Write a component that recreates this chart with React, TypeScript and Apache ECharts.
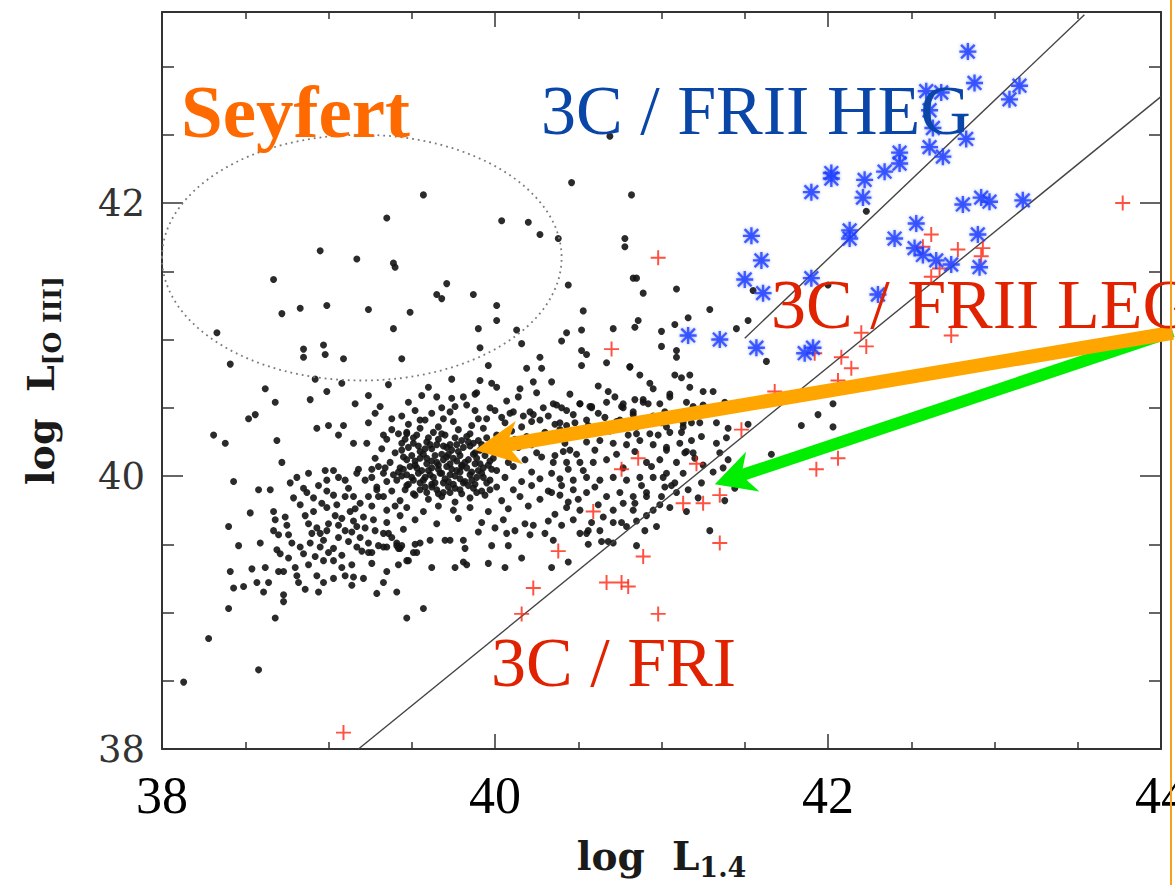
import React, { useEffect, useRef } from "react";
import * as echarts from "echarts";

// ---------- axis ranges ----------
const xRange = [38, 44];
const yRange = [38, 43.4];

// ---------- black points (log L1.4, log L[O III]) ----------
const blackUpper: number[][] = [
  [40.46,42.15],[39.57,42.06],[39.35,41.89],[40.04,41.87],[40.20,41.86],[40.27,41.77],[40.38,41.74],[38.95,41.65],
  [39.17,41.59],[39.39,41.56],[39.40,41.53],[38.67,41.44],[40.44,41.40],[39.71,41.41],[39.65,41.33],[39.68,41.30],
  [39.87,41.33],[38.99,41.25],[38.83,41.23],[39.24,41.22],[38.72,41.19],[39.49,41.20],[40.01,41.25],[40.01,41.14],
  [40.53,41.21],[39.39,41.08],[39.90,41.08],[40.13,41.07],[38.33,41.05],[40.43,41.05],[40.52,41.07],[40.69,42.49],
  [40.82,42.06],[40.71,41.08],[42.23,41.94],[40.78,41.74],[40.78,41.68],[40.83,41.45],[40.85,41.45],[40.89,41.34],
  [41.09,41.37],[41.29,41.22],[41.16,41.16],[40.86,41.14],[40.84,41.09],[41.00,41.06],[41.08,41.11],[41.00,40.95],
  [41.09,40.92],[41.09,40.87],[41.45,41.08],[41.52,41.14],[41.55,41.36],[42.00,41.40],[41.63,40.84]
];

const blackMid: number[][] = [
  [38.85,40.93],[38.85,40.87],[38.97,40.96],[38.98,40.89],[39.09,40.86],[39.44,40.86],[40.16,40.97],[39.91,40.94],
  [40.40,40.99],[40.27,40.87],[40.52,40.92],[40.55,40.89],[38.41,40.82],[39.96,40.81],[40.19,40.79],[40.28,40.79],
  [40.52,40.81],[38.92,40.71],[39.08,40.68],[39.36,40.67],[39.74,40.71],[39.91,40.70],[40.01,40.65],[40.15,40.64],
  [40.23,40.69],[40.34,40.69],[38.62,40.64],[38.99,40.62],[39.24,40.59],[39.60,40.65],[39.65,40.58],[39.74,40.57],
  [39.81,40.58],[39.88,40.60],[39.56,40.59],[40.14,40.58],[38.68,40.54],[38.89,40.56],[39.16,40.53],[39.31,40.51],
  [39.48,40.54],[39.68,40.50],[39.88,40.48],[39.97,40.50],[40.11,40.47],[40.29,40.50],[40.37,40.52],[40.57,40.51],
  [38.52,40.42],[38.56,40.45],[39.44,40.44],[39.69,40.42],[39.90,40.42],[40.04,40.43],[40.17,40.44],[40.22,40.40],
  [40.47,40.45],[40.55,40.41],[38.31,40.30],[38.38,40.24],[38.69,40.26],[38.93,40.35],[39.00,40.37],[39.09,40.37],
  [39.24,40.39],[39.06,40.30],[39.15,40.24],[39.23,40.24],[39.33,40.30],[39.42,40.31],[40.67,40.83],[40.81,40.80],
  [39.98,40.68],[40.25,40.61],[40.68,40.62],[40.77,40.50],[40.89,40.56],[39.89,40.61],[39.73,40.47],[39.76,40.51],
  [40.00,40.48],[40.09,40.46],[40.21,40.47],[40.23,40.45],[40.35,40.53],[40.40,40.50],[40.51,40.53],[40.58,40.51],
  [40.75,40.41],[40.83,40.47],[39.55,40.41],[39.47,40.32],[39.52,40.48],[39.62,40.46],[39.83,40.52],[40.07,40.55],
  [40.32,40.44],[39.38,40.42],[39.28,40.46],[40.43,40.37]
];

const blackLeft: number[][] = [
  [38.72,40.10],[38.43,39.96],[38.58,39.90],[38.65,39.90],[38.40,39.63],[38.53,39.73],[38.46,39.49],[38.59,39.51],
  [38.41,39.30],[38.43,39.18],[38.49,39.19],[38.54,39.32],[38.62,39.33],[38.57,39.22],[38.64,39.22],[38.61,39.15],
  [38.70,39.30],[38.73,39.30],[38.73,39.13],[38.73,39.08],[38.40,39.03],[38.68,38.96],[38.80,39.33],[38.81,39.27],
  [38.82,39.22],[38.86,39.17],[38.94,39.15],[38.93,39.27],[38.81,39.99],[38.88,40.02],[38.85,39.91],[38.87,39.88],
  [38.91,39.84],[38.98,40.04],[38.99,39.97],[39.03,40.04],[39.06,39.99],[38.99,39.89],[39.03,39.86],[39.10,39.97],
  [39.18,40.05],[39.22,39.97],[39.30,40.07],[39.33,40.02],[39.39,40.01],[39.43,40.06],[39.41,39.97],[39.29,39.90],
  [39.30,39.85],[39.24,39.85],[39.15,39.85],[39.10,39.85],[39.19,39.80],[38.67,39.74],[38.68,39.68],[38.74,39.70],
  [38.67,39.60],[38.70,39.57],[38.76,39.57],[38.78,39.51],[38.83,39.48],[38.69,39.46],[38.71,39.43],[38.83,39.79],
  [38.86,39.71],[38.91,39.74],[38.90,39.58],[38.95,39.58],[38.99,39.60],[38.89,39.51],[38.95,39.48],[38.92,39.41],
  [38.97,39.38],[39.03,39.38],[39.08,39.42],[39.03,39.47],[39.06,39.55],[39.10,39.60],[39.14,39.59],[39.17,39.63],
  [39.08,39.69],[39.04,39.71],[38.99,39.77],[39.14,39.35],[39.03,39.25],[39.10,39.27],[39.15,39.26],[39.21,39.25],
  [39.14,39.20],[39.24,39.51],[39.24,39.44],[39.30,39.49],[39.29,39.14],[39.41,39.15],[39.42,39.35],[39.41,39.49],
  [39.36,39.58],[39.27,39.68],[39.35,39.75],[39.40,39.78],[39.43,39.71],[39.47,39.38],[39.47,38.96],[38.13,38.49],
  [38.28,38.81],[38.58,38.58],[39.57,39.03],[39.62,39.33],[39.76,39.33],[39.83,39.35],[39.96,39.36],[40.06,39.33],
  [40.34,39.33],[39.82,39.47],[39.98,39.49],[40.08,39.49],[40.56,39.50],[39.42,39.47],[39.70,39.53],[39.33,39.48],
  [39.26,39.44],[39.52,39.50],[39.44,39.49],[39.81,39.37],[40.64,39.52],[40.68,39.52],[40.85,39.49],[40.51,39.58],
  [40.56,39.60],[40.23,39.64],[40.21,39.57],[40.07,39.58],[39.81,39.53],[39.73,39.53],[39.61,39.53],[39.55,39.51],
  [39.48,39.38],[39.51,39.44],[39.53,39.44],[39.41,39.51],[39.43,39.47],[39.33,39.58],[39.35,39.48],
  [38.77,39.95],[38.94,39.93],[39.12,39.91],[39.17,40.02],[39.26,40.05],[38.79,39.84],[38.96,39.80],[39.13,39.74],
  [39.21,39.70],[38.75,39.64],[38.88,39.65],[39.00,39.65],[39.19,39.55],[39.28,39.60],[38.85,39.43],[39.00,39.44],
  [39.17,39.48],[38.88,39.35],[39.08,39.33],[39.26,39.36],[39.35,39.30],[38.97,39.22],[39.33,39.22],[38.76,39.40],
  [38.93,39.62],[39.06,39.64],[39.15,39.67],[39.22,39.62],[38.97,39.53],[39.12,39.52],[39.20,39.45],[39.05,39.79],
  [39.16,39.76],[39.26,39.78],[39.35,39.66],[39.38,39.55]
];

const blackCore: number[][] = [
  [39.48,40.38],[39.58,40.41],[39.66,40.36],[39.75,40.40],[39.86,40.37],[39.95,40.42],[40.06,40.39],[40.16,40.36],[40.27,40.41],[40.36,40.38],
  [39.38,40.34],[39.47,40.31],[39.55,40.35],[39.63,40.32],[39.70,40.30],[39.78,40.34],[39.85,40.31],[39.93,40.35],[40.01,40.30],[40.10,40.33],[40.19,40.29],[40.30,40.32],
  [39.35,40.27],[39.44,40.24],[39.51,40.28],[39.59,40.25],[39.66,40.27],[39.73,40.23],[39.80,40.26],[39.87,40.24],[39.95,40.28],[40.03,40.25],[40.12,40.27],[40.22,40.23],[40.33,40.26],
  [39.32,40.20],[39.40,40.17],[39.48,40.21],[39.55,40.18],[39.62,40.20],[39.68,40.16],[39.74,40.19],[39.81,40.21],[39.88,40.17],[39.96,40.20],[40.05,40.18],[40.14,40.21],[40.25,40.17],
  [39.28,40.13],[39.37,40.10],[39.45,40.14],[39.52,40.11],[39.59,40.13],[39.65,40.10],[39.71,40.14],[39.77,40.11],[39.84,40.12],[39.91,40.09],[39.99,40.13],[40.08,40.10],[40.18,40.12],[40.28,40.14],
  [39.34,40.06],[39.42,40.03],[39.49,40.07],[39.56,40.04],[39.62,40.06],[39.68,40.02],[39.74,40.05],[39.80,40.07],[39.86,40.03],[39.93,40.06],[40.01,40.04],[40.11,40.07],[40.22,40.03],
  [39.26,39.99],[39.35,39.96],[39.44,40.00],[39.51,39.97],[39.58,39.99],[39.64,39.95],[39.70,39.98],[39.76,40.00],[39.82,39.96],[39.89,39.99],[39.97,39.97],[40.06,39.99],[40.16,39.96],[40.27,39.98],
  [39.29,39.92],[39.38,39.89],[39.47,39.93],[39.55,39.90],[39.62,39.92],[39.69,39.88],[39.76,39.91],[39.84,39.93],[39.92,39.89],[40.01,39.92],[40.11,39.90],[40.22,39.93],[40.32,39.89],
  [39.33,39.85],[39.43,39.82],[39.52,39.86],[39.60,39.83],[39.68,39.85],[39.76,39.81],[39.85,39.84],[39.94,39.86],[40.04,39.82],[40.15,39.85],[40.27,39.83],
  [39.47,39.77],[39.57,39.74],[39.66,39.78],[39.75,39.75],[39.85,39.77],[39.96,39.74],[40.08,39.76],[40.20,39.78],
  [39.52,39.68],[39.65,39.65],[39.78,39.69],[39.92,39.66],[40.05,39.68],[40.18,39.65],[40.32,39.67],
  [39.45,39.61],[39.90,39.59],[40.00,39.62],[40.12,39.60],[40.30,39.58],
  [39.54,40.22],[39.61,40.23],[39.69,40.22],[39.77,40.23],[39.85,40.22],[39.92,40.23],
  [39.50,40.15],[39.57,40.16],[39.64,40.15],[39.72,40.16],[39.79,40.15],[39.87,40.16],[39.94,40.15],
  [39.52,40.08],[39.59,40.09],[39.66,40.08],[39.73,40.09],[39.80,40.08],[39.88,40.09],[39.96,40.08],
  [39.47,40.01],[39.54,40.02],[39.61,40.01],[39.67,40.02],[39.73,40.01],[39.79,40.03],[39.85,40.01],[39.92,40.02],
  [39.48,39.94],[39.55,39.95],[39.62,39.94],[39.69,39.95],[39.75,39.94],[39.81,39.95],[39.88,39.94],[39.95,39.95],
  [39.51,39.87],[39.59,39.88],[39.66,39.87],[39.73,39.88],[39.80,39.87],[39.89,39.88],
  [40.38,40.28],[40.42,40.24],[40.36,40.15],[40.44,40.05],[40.34,40.02],[40.40,39.93],[40.34,39.88],[40.44,39.81],[40.36,39.72],[40.40,39.64],
  [39.46,40.27],[39.53,40.30],[39.60,40.28],[39.68,40.31],[39.76,40.28],[39.83,40.29],[39.90,40.26],
  [39.44,40.19],[39.51,40.24],[39.58,40.20],[39.65,40.23],[39.71,40.21],[39.78,40.18],[39.84,40.25],[39.91,40.19],[39.99,40.23],
  [39.47,40.12],[39.55,40.13],[39.62,40.11],[39.69,40.12],[39.75,40.13],[39.82,40.10],[39.89,40.13],[39.97,40.11],
  [39.45,40.05],[39.53,40.06],[39.60,40.04],[39.66,40.05],[39.71,40.07],[39.77,40.04],[39.83,40.06],[39.90,40.04],[39.98,40.05],
  [39.50,39.99],[39.57,39.97],[39.63,39.99],[39.72,39.96],[39.79,39.98],[39.86,39.97],[39.93,39.99],
  [39.46,39.90],[39.58,39.92],[39.65,39.90],[39.72,39.92],[39.79,39.90],[39.87,39.91],[39.97,39.90]
];

const blackRight: number[][] = [
  [40.87,40.74],[41.08,40.74],[41.17,40.74],[40.95,40.64],[41.05,40.60],[41.25,40.62],[41.31,40.62],[41.15,40.54],
  [41.19,40.51],[41.38,40.54],[41.46,40.52],[40.92,40.53],[40.84,40.56],[40.76,40.51],[40.67,40.54],[40.58,40.50],
  [40.51,40.53],[40.43,40.48],[41.33,40.39],[41.40,40.35],[41.24,40.29],[41.13,40.36],[41.03,40.36],[40.95,40.41],
  [40.85,40.36],[40.73,40.40],[40.66,40.43],[40.56,40.37],[40.48,40.39],[40.39,40.34],[40.39,40.39],[41.11,40.24],
  [41.03,40.21],[40.95,40.23],[40.87,40.26],[40.79,40.23],[40.71,40.24],[40.63,40.26],[40.55,40.25],[40.45,40.19],
  [40.49,40.16],[40.41,40.18],[41.19,40.17],[41.09,40.10],[40.99,40.12],[40.91,40.10],[40.67,40.12],[40.59,40.10],
  [40.51,40.10],[40.43,40.10],[40.35,40.10],[40.87,39.99],[40.79,39.97],[40.71,39.99],[40.63,39.97],[40.55,39.99],
  [40.47,39.97],[40.39,39.98],[40.95,39.99],[41.03,40.02],[41.02,39.92],[40.91,39.88],[40.83,39.85],[40.75,39.88],
  [40.67,39.85],[40.55,39.88],[40.47,39.90],[40.39,39.86],[40.83,39.75],[40.71,39.75],[40.65,39.70],[40.51,39.75],
  [40.43,39.77],[40.47,39.68],[40.71,39.66],[40.79,39.63],[40.85,39.67],[40.91,39.71],[40.99,39.79],[41.09,39.88],
  [41.29,39.60],[41.15,39.74],[40.63,39.60],[40.55,39.58],[40.35,39.53],[40.44,39.37],[40.16,39.40],[40.71,39.51],
  [40.81,40.80],[41.12,40.72],[41.17,40.65],[41.25,40.52],[42.03,40.53],[41.94,40.45],[41.84,40.37],[42.03,40.36],
  [41.66,40.16],[41.52,40.38],[41.33,40.24],[41.39,40.28],[41.14,40.17],[41.20,40.13],[41.35,40.17],[41.40,40.12],
  [41.31,40.03],[41.37,40.06],[41.24,39.95],[41.44,39.91],[41.38,39.82],[41.05,39.77],[40.97,39.63],[40.76,39.66],
  [41.06,39.93],[41.08,39.95],[41.00,39.85],[40.91,39.85],[40.84,39.80],[41.01,39.99],[40.94,40.07],[41.15,40.18],
  [41.03,40.19],[41.05,40.32],[41.12,40.32],[41.13,40.39],[41.18,40.39],[41.23,40.39],[40.95,40.44],[41.00,40.39],
  [40.83,40.45],[40.77,40.53],[40.89,40.54],[40.99,40.53],[41.05,40.58],[40.93,40.31],[40.85,40.31],[40.77,40.39],
  [40.45,40.60],[40.62,40.66],[40.72,40.58],[40.93,40.68],[41.02,40.47],[41.22,40.46],[40.62,40.46],[40.69,40.33],
  [40.80,40.30],[40.98,40.30],[41.18,40.26],[40.60,40.19],[40.73,40.16],[40.84,40.18],[41.25,40.08],[40.53,40.04],
  [40.77,40.06],[41.13,40.02],[40.60,39.92],[40.88,39.93],[41.16,39.90],[40.50,39.83],[40.62,39.79],[40.77,39.80],
  [40.95,39.75],[41.22,39.84],[40.58,39.66],[40.90,39.60]
];

// ---------- 3C / FRI and 3C / FRII LEG (red crosses) ----------
const redCross: number[][] = [
  [43.77,42.00],[42.62,41.77],[42.57,41.68],[42.78,41.66],[42.93,41.67],[42.92,41.61],[42.67,41.52],[42.62,41.46],
  [40.98,41.60],[40.70,40.93],[42.20,41.05],[42.23,40.95],[42.74,41.03],[41.92,40.90],[42.08,40.87],[42.14,40.79],
  [42.06,40.70],[41.68,40.62],[41.48,40.34],[40.86,40.13],[40.76,40.05],[41.21,40.09],[40.59,39.74],[41.13,39.80],
  [41.25,39.80],[41.35,39.86],[41.35,39.51],[40.89,39.41],[40.67,39.22],[40.76,39.22],[40.80,39.19],[40.98,38.99],
  [41.93,40.05],[42.06,40.13],[40.38,39.45],[40.23,39.18],[40.16,38.99],[39.09,38.12]
];

// ---------- 3C / FRII HEG (blue asterisks) ----------
const blueHeg: number[][] = [
  [42.84,43.11],[42.88,42.88],[43.15,42.86],[43.09,42.76],[42.59,42.82],[42.68,42.81],[42.61,42.68],[42.63,42.55],
  [42.83,42.47],[42.61,42.41],[42.69,42.34],[42.43,42.37],[42.43,42.29],[42.34,42.23],[42.02,42.22],[42.02,42.18],
  [42.22,42.17],[42.21,42.04],[41.90,42.08],[42.81,41.99],[42.92,42.04],[42.97,42.01],[43.17,42.02],[42.53,41.85],
  [42.13,41.80],[42.13,41.74],[42.40,41.74],[42.90,41.77],[42.52,41.67],[42.57,41.62],[42.65,41.58],[42.74,41.55],
  [42.91,41.53],[41.54,41.76],[41.60,41.58],[41.50,41.44],[41.61,41.34],[41.90,41.45],[42.30,41.33],[41.16,41.03],
  [41.35,41.00],[41.57,40.94],[41.86,40.90],[41.91,40.94]
];

// ---------- reference lines ----------
const lineUpper: number[][] = [[41.50, 41.01], [43.54, 43.38]];
const lineLower: number[][] = [[39.18, 38.0], [44.0, 42.78]];

// ---------- annotations (data coordinates) ----------
const seyfertEllipse = { cx: 39.2, cy: 41.6, rx: 1.2, ry: 0.9 };
const orangeArrow = { tail: [44.07, 41.05], tip: [39.88, 40.19] };
const greenArrow = { tail: [44.07, 41.06], tip: [41.32, 39.94] };

const PLUS = "path://M4.35,0H5.65V4.35H10V5.65H5.65V10H4.35V5.65H0V4.35H4.35Z";
const STAR =
  "path://M4.3,0H5.7V10H4.3Z M0,4.3H10V5.7H0Z M0.5,1.5L1.5,0.5L9.5,8.5L8.5,9.5Z M8.5,0.5L9.5,1.5L1.5,9.5L0.5,8.5Z";

const W = 1175;
const H = 885;

function arrowGraphics(tail: number[], tip: number[], width: number, headLen: number, headHalf: number, notch: number, color: string) {
  const dx = tip[0] - tail[0];
  const dy = tip[1] - tail[1];
  const L = Math.hypot(dx, dy);
  const ux = dx / L, uy = dy / L;
  const nx = -uy, ny = ux;
  const bx = tip[0] - ux * headLen, by = tip[1] - uy * headLen;
  const mx = tip[0] - ux * (notch - 3), my = tip[1] - uy * (notch - 3);
  const kx = tip[0] - ux * notch, ky = tip[1] - uy * notch;
  return [
    {
      type: "line",
      z: 100,
      silent: true,
      shape: { x1: tail[0], y1: tail[1], x2: mx, y2: my },
      style: { stroke: color, lineWidth: width, lineCap: "butt" },
    },
    {
      type: "polygon",
      z: 100,
      silent: true,
      shape: {
        points: [
          [tip[0], tip[1]],
          [bx + nx * headHalf, by + ny * headHalf],
          [kx, ky],
          [bx - nx * headHalf, by - ny * headHalf],
        ],
      },
      style: { fill: color },
    },
  ];
}

export default function App() {
  const ref = useRef<HTMLDivElement>(null);

  useEffect(() => {
    if (!ref.current) return;
    document.body.style.margin = "0";
    document.body.style.overflow = "hidden";
    const chart = echarts.init(ref.current, null, { renderer: "svg", width: W, height: H });

    const frame = { show: true, onZero: false, lineStyle: { color: "#333", width: 2 } };
    const xTick = { show: true, inside: true, length: 15, lineStyle: { color: "#333", width: 1.5 } };
    const xMinor = { show: true, splitNumber: 4, length: 7, lineStyle: { color: "#333", width: 1.5 } };
    const yTick = { show: true, inside: true, length: 21, lineStyle: { color: "#333", width: 1.5 } };
    const yMinor = { show: true, splitNumber: 4, length: 12, lineStyle: { color: "#333", width: 1.5 } };

    const titleRich = (main: number, sub: number) => ({
      a: { fontSize: main, fontWeight: "bold", fontFamily: "DejaVu Serif", color: "#1a1a1a", lineHeight: 50, verticalAlign: "middle" },
      b: { fontSize: sub, fontWeight: "bold", fontFamily: "DejaVu Serif", color: "#1a1a1a", lineHeight: 20, verticalAlign: "bottom" },
    });

    const dotSeries = (name: string, data: number[][]) => ({
      name,
      type: "scatter",
      data,
      symbol: "circle",
      symbolSize: 7,
      itemStyle: { color: "#141414", opacity: 0.9 },
      silent: true,
      z: 2,
    });

    chart.setOption({
      animation: false,
      backgroundColor: "#ffffff",
      grid: { left: 162, right: 14, top: 12, bottom: 136, containLabel: false, outerBoundsMode: "none" },
      xAxis: [
        {
          type: "value",
          min: xRange[0],
          max: xRange[1],
          interval: 2,
          position: "bottom",
          axisLine: frame,
          axisTick: xTick,
          minorTick: xMinor,
          splitLine: { show: false },
          axisLabel: { margin: 20, fontSize: 52, fontFamily: "Liberation Serif", color: "#000" },
          name: "{a|log  L}{b|1.4}",
          nameLocation: "middle",
          nameGap: 82,
          nameTextStyle: { rich: titleRich(39, 27) },
        },
        {
          type: "value",
          min: xRange[0],
          max: xRange[1],
          interval: 2,
          position: "top",
          axisLine: frame,
          axisTick: xTick,
          minorTick: xMinor,
          splitLine: { show: false },
          axisLabel: { show: false },
        },
      ],
      yAxis: [
        {
          type: "value",
          min: yRange[0],
          max: yRange[1],
          interval: 2,
          position: "left",
          axisLine: frame,
          axisTick: yTick,
          minorTick: yMinor,
          splitLine: { show: false },
          axisLabel: { margin: 17, fontSize: 37, fontFamily: "DejaVu Serif", color: "#333", showMaxLabel: false },
          name: "{a|log  L}{b|[O III]}",
          nameLocation: "middle",
          nameRotate: 90,
          nameGap: 97,
          nameTextStyle: { rich: titleRich(38, 25) },
        },
        {
          type: "value",
          min: yRange[0],
          max: yRange[1],
          interval: 2,
          position: "right",
          axisLine: frame,
          axisTick: yTick,
          minorTick: yMinor,
          splitLine: { show: false },
          axisLabel: { show: false },
        },
      ],
      series: [
        dotSeries("upper", blackUpper),
        dotSeries("mid", blackMid),
        dotSeries("left", blackLeft),
        dotSeries("core", blackCore),
        dotSeries("right", blackRight),
        {
          name: "line1",
          type: "line",
          data: lineUpper,
          showSymbol: false,
          silent: true,
          lineStyle: { color: "#444", width: 1.4 },
          z: 3,
        },
        {
          name: "line2",
          type: "line",
          data: lineLower,
          showSymbol: false,
          silent: true,
          lineStyle: { color: "#444", width: 1.4 },
          z: 3,
        },
        {
          name: "3C/FRI + LEG",
          type: "scatter",
          data: redCross,
          symbol: PLUS,
          symbolSize: 15,
          itemStyle: { color: "#ff2410" },
          silent: true,
          z: 4,
        },
        {
          name: "3C/FRII HEG",
          type: "scatter",
          data: blueHeg,
          symbol: STAR,
          symbolSize: 17,
          itemStyle: { color: "#1f3cff", shadowBlur: 3, shadowColor: "rgba(40,80,255,0.6)" },
          silent: true,
          z: 5,
        },
      ],
    });

    const px = (p: number[]) => chart.convertToPixel({ seriesIndex: 0 }, p) as number[];
    const c = px([seyfertEllipse.cx, seyfertEllipse.cy]);
    const e = px([seyfertEllipse.cx + seyfertEllipse.rx, seyfertEllipse.cy + seyfertEllipse.ry]);
    const oTail = px(orangeArrow.tail), oTip = px(orangeArrow.tip);
    const gTail = px(greenArrow.tail), gTip = px(greenArrow.tip);
    const edge = px([44, 38]);

    const label = (text: string, x: number, y: number, fill: string, size: number, bold = false) => ({
      type: "text",
      x,
      y,
      z: 110,
      silent: true,
      style: {
        text,
        fill,
        fontSize: size,
        fontWeight: bold ? "bold" : "normal",
        fontFamily: "Liberation Serif",
        align: "left",
        verticalAlign: "middle",
      },
    });

    chart.setOption({
      graphic: [
        {
          type: "ellipse",
          z: 50,
          silent: true,
          shape: { cx: c[0], cy: c[1], rx: Math.abs(e[0] - c[0]), ry: Math.abs(c[1] - e[1]) },
          style: { fill: "none", stroke: "#7a7a7a", lineWidth: 1.8, lineDash: [1.8, 4] },
        },
        ...arrowGraphics(gTail, gTip, 12, 40, 21, 28, "#00ee00"),
        ...arrowGraphics(oTail, oTip, 14, 45, 22, 32, "#ffa500"),
        label("Seyfert", 181, 111, "#ff6a00", 75, true),
        label("3C / FRII HEG", 541, 110, "#0a46a8", 70),
        label("3C / FRII LEG", 771, 304, "#e02200", 70),
        label("3C / FRI", 491, 662, "#e02200", 70),
        {
          type: "line",
          z: 120,
          silent: true,
          shape: { x1: edge[0] + 10, y1: 0, x2: edge[0] + 10, y2: H },
          style: { stroke: "#f5a11c", lineWidth: 2 },
        },
      ],
    });

    return () => chart.dispose();
  }, []);

  return (
    <div
      ref={ref}
      style={{ position: "fixed", left: 0, top: 0, width: W, height: H, background: "#fff" }}
    />
  );
}
